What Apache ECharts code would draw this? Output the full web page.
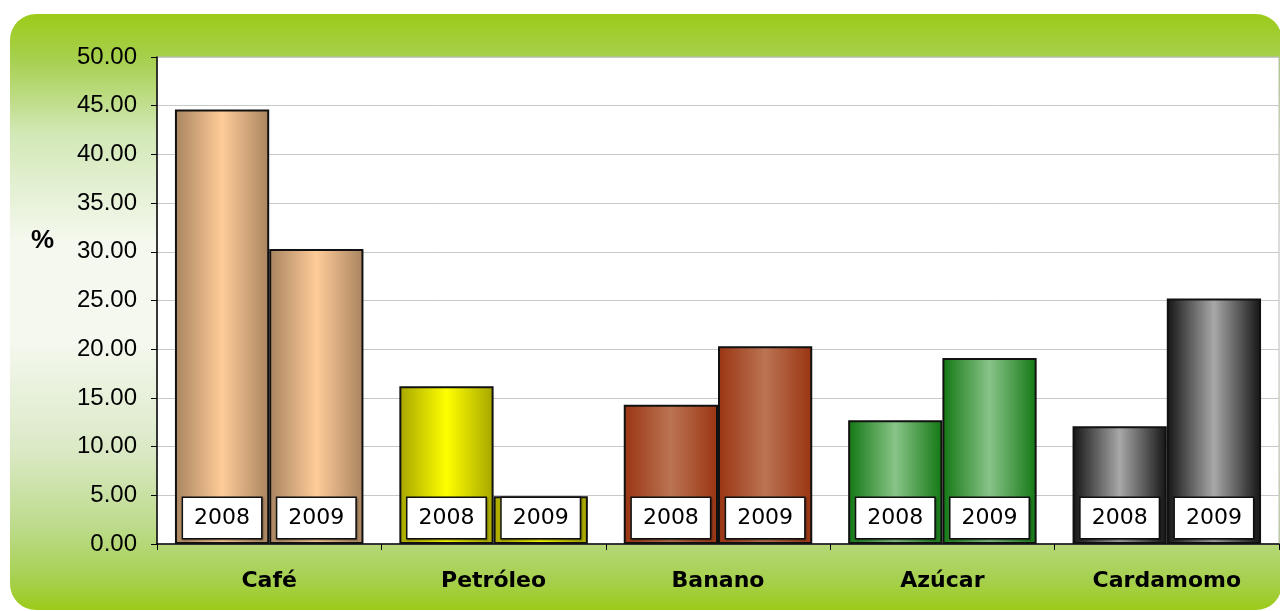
<!DOCTYPE html>
<html>
<head>
<meta charset="utf-8">
<script src="https://cdn.jsdelivr.net/npm/echarts@6/dist/echarts.min.js"></script>
<style>
  html, body { margin: 0; padding: 0; background: #fff; }
  #chart { width: 1280px; height: 611px; }
</style>
</head>
<body>
<div id="chart"></div>
<script>
// data
var categories = ['Café', 'Petróleo', 'Banano', 'Azúcar', 'Cardamomo'];
var years = ['2008', '2009'];
var values2008 = [44.6, 16.2, 14.3, 12.7, 12.1];
var values2009 = [30.3, 4.9, 20.3, 19.1, 25.2];
var yMin = 0, yMax = 50, yStep = 5;

// bar shading per product: [edge, centre]
var barShades = [
    ['#a8845f', '#ffcc99'],
    ['#a6a600', '#ffff00'],
    ['#9a3412', '#bb7452'],
    ['#137713', '#88c488'],
    ['#141414', '#a8a8a8']
];

var chart = echarts.init(document.getElementById('chart'));

function shade(i){
    return new echarts.graphic.LinearGradient(0, 0, 1, 0, [
        {offset: 0, color: barShades[i][0]},
        {offset: 0.5, color: barShades[i][1]},
        {offset: 1, color: barShades[i][0]}
    ]);
}

function makeData(values){
    return values.map(function(v, i){
        return {value: v, itemStyle: {color: shade(i)}};
    });
}

var bgFill = new echarts.graphic.LinearGradient(0, 0, 0, 1, [
    {offset: 0, color: '#9ccb19'},
    {offset: 0.08, color: '#a8d052'},
    {offset: 0.2, color: '#d2e8b6'},
    {offset: 0.38, color: '#f4f8ee'},
    {offset: 0.55, color: '#f4f8ee'},
    {offset: 0.73, color: '#dbe9c6'},
    {offset: 0.86, color: '#bddb8c'},
    {offset: 0.95, color: '#a6d04e'},
    {offset: 1, color: '#9ccb19'}
]);

var barLabel = {
    show: true,
    position: 'insideBottom',
    distance: 6,
    formatter: '{a}',
    color: '#000',
    fontFamily: 'DejaVu Sans',
    fontSize: 22,
    lineHeight: 24,
    backgroundColor: '#fff',
    borderColor: '#111',
    borderWidth: 1.5,
    padding: [8, 11],
    shadowColor: 'rgba(0,0,0,0.35)',
    shadowBlur: 2,
    shadowOffsetX: 1,
    shadowOffsetY: 1
};

chart.setOption({
    animation: false,
    backgroundColor: '#fff',
    graphic: [{
        type: 'rect',
        z: -10,
        shape: {x: 10, y: 14, width: 1272, height: 596, r: 26},
        style: {fill: bgFill}
    }, {
        type: 'text',
        left: 31,
        top: 228,
        style: {
            text: '%',
            fill: '#000',
            font: 'bold 26px "Liberation Sans"'
        }
    }],
    grid: {
        left: 157,
        top: 57,
        right: 1,
        bottom: 67,
        show: true,
        backgroundColor: '#fff',
        borderColor: '#bdbdbd',
        borderWidth: 1,
        outerBoundsMode: 'none'
    },
    xAxis: {
        type: 'category',
        data: categories,
        boundaryGap: true,
        axisLine: {lineStyle: {color: '#000', width: 1.5}},
        axisTick: {show: true, length: 6, lineStyle: {color: '#000'}},
        axisLabel: {
            margin: 26,
            color: '#000',
            fontFamily: 'DejaVu Sans',
            fontWeight: 'bold',
            fontSize: 22
        },
        splitLine: {show: false}
    },
    yAxis: {
        type: 'value',
        min: yMin,
        max: yMax,
        interval: yStep,
        axisLine: {show: true, lineStyle: {color: '#000', width: 1.5}},
        axisTick: {show: true, length: 6, inside: false, lineStyle: {color: '#000'}},
        axisLabel: {
            margin: 20,
            color: '#000',
            fontFamily: 'Liberation Sans',
            fontSize: 24,
            formatter: function(v){ return v.toFixed(2); }
        },
        splitLine: {show: true, lineStyle: {color: '#c8c8c8', width: 1}}
    },
    series: [{
        name: years[0],
        type: 'bar',
        barWidth: '42%',
        barGap: '0%',
        itemStyle: {borderColor: '#111', borderWidth: 2},
        label: barLabel,
        data: makeData(values2008)
    }, {
        name: years[1],
        type: 'bar',
        barWidth: '42%',
        barGap: '0%',
        itemStyle: {borderColor: '#111', borderWidth: 2},
        label: barLabel,
        data: makeData(values2009)
    }]
});
</script>
</body>
</html>
